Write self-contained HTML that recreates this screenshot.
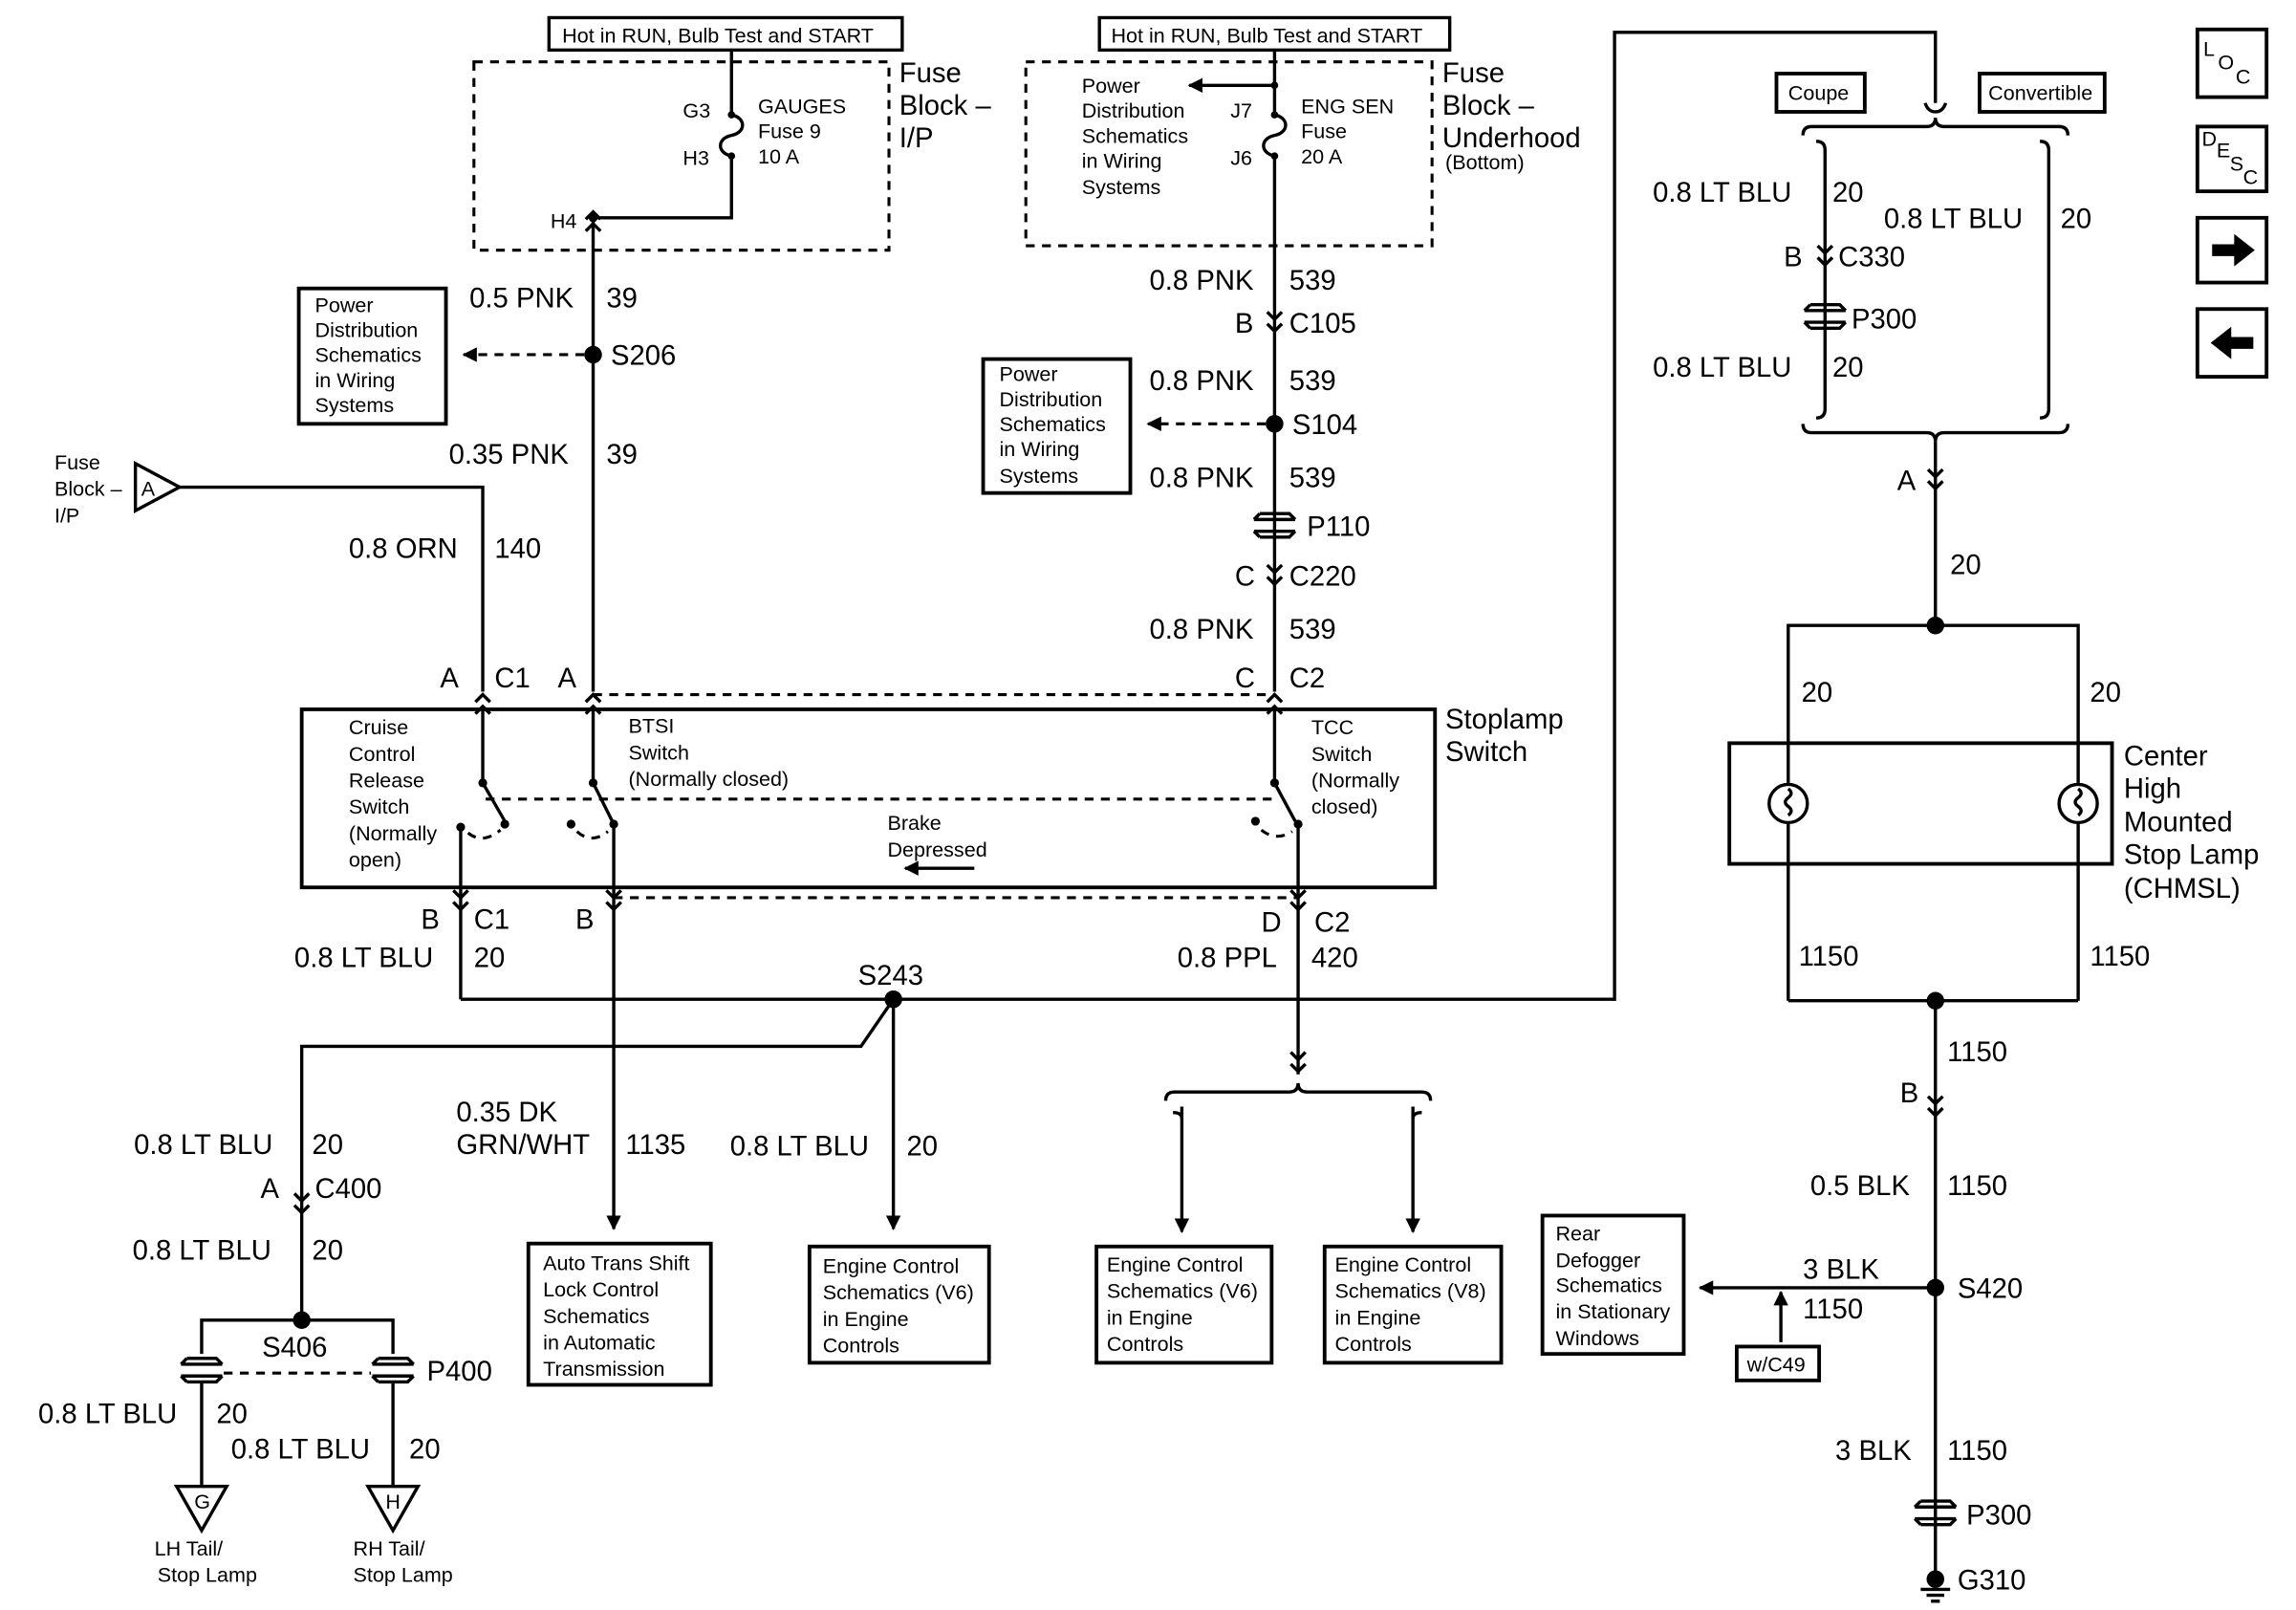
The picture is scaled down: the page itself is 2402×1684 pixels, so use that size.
<!DOCTYPE html>
<html><head><meta charset="utf-8"><style>
html,body{margin:0;padding:0;background:#fff}
svg{display:block}
text{font-family:"Liberation Sans",sans-serif;fill:#000}
.s{font-size:14px}.m{font-size:19px}
.w{stroke:#000;stroke-width:2.2;fill:none}
.d{stroke:#000;stroke-width:2;fill:none;stroke-dasharray:6,5}
.b{stroke:#000;stroke-width:2.5;fill:none}
</style></head><body>
<svg width="2402" height="1684" viewBox="0 0 1560 1094" preserveAspectRatio="none" xmlns="http://www.w3.org/2000/svg">
<defs>
<g id="cc"><path d="M-5,-7 L0,-2 L5,-7 M-5,1 L0,6 L5,1" class="w" stroke-width="1.8"/></g>
<g id="cu"><path d="M-5,-1 L0,-6 L5,-1 M-5,7 L0,2 L5,7" class="w" stroke-width="1.8"/></g>
<g id="pp"><path d="M-14,-4 L14,-4 M-14,4 L14,4 M-10,-8 L10,-8 L14,-4 M-10,8 L10,8 L14,4 M-10,-8 L-14,-4 M-10,8 L-14,4" class="w" stroke-width="2"/></g>
<marker id="ar" markerWidth="10" markerHeight="10" refX="9" refY="5" orient="auto" markerUnits="userSpaceOnUse"><path d="M0,0 L10,5 L0,10 z" fill="#000"/></marker>
</defs>

<!-- top left fuse block -->
<rect x="373" y="12" width="240" height="22" class="w" stroke-width="2"/>
<text x="382" y="29" class="s">Hot in RUN, Bulb Test and START</text>
<rect x="322" y="42" width="282" height="128" class="d" stroke-width="3"/>
<text x="611" y="56" class="m">Fuse</text><text x="611" y="78" class="m">Block –</text><text x="611" y="100" class="m">I/P</text>
<text x="464" y="80" class="s">G3</text><text x="464" y="112" class="s">H3</text>
<text x="515" y="77" class="s">GAUGES</text><text x="515" y="94" class="s">Fuse 9</text><text x="515" y="111" class="s">10 A</text>
<text x="374" y="155" class="s">H4</text>
<path d="M497,34 L497,78 C507,80 507,90 497,92 C487,94 487,104 497,106 L497,148 L403,148 L403,470" class="w"/>
<circle cx="497" cy="78" r="2.5"/><circle cx="497" cy="106" r="2.5"/>
<use href="#cu" x="403" y="150"/>
<circle cx="403" cy="148" r="3"/>
<text x="319" y="209" class="m">0.5 PNK</text><text x="412" y="209" class="m">39</text>
<circle cx="403" cy="241" r="6"/><text x="415" y="248" class="m">S206</text>
<line x1="397" y1="241" x2="315" y2="241" class="d" marker-end="url(#ar)"/>
<rect x="203" y="196" width="100" height="92" class="b"/>
<text x="214" y="212" class="s">Power</text><text x="214" y="229" class="s">Distribution</text><text x="214" y="246" class="s">Schematics</text><text x="214" y="263" class="s">in Wiring</text><text x="214" y="280" class="s">Systems</text>
<text x="305" y="315" class="m">0.35 PNK</text><text x="412" y="315" class="m">39</text>
<text x="37" y="319" class="s">Fuse</text><text x="37" y="337" class="s">Block –</text><text x="37" y="355" class="s">I/P</text>
<path d="M92,347 L92,315 L122,331 Z" class="w"/><text x="96" y="337" class="s">A</text>
<path d="M122,331 L328,331 L328,470" class="w"/>
<text x="237" y="379" class="m">0.8 ORN</text><text x="336" y="379" class="m">140</text>
<text x="299" y="467" class="m">A</text><text x="336" y="467" class="m">C1</text><text x="379" y="467" class="m">A</text>

<!-- top middle fuse block -->
<rect x="747" y="12" width="238" height="22" class="w" stroke-width="2"/>
<text x="755" y="29" class="s">Hot in RUN, Bulb Test and START</text>
<rect x="697" y="42" width="276" height="125" class="d" stroke-width="3"/>
<text x="980" y="56" class="m">Fuse</text><text x="980" y="78" class="m">Block –</text><text x="980" y="100" class="m">Underhood</text><text x="982" y="115" class="s">(Bottom)</text>
<text x="735" y="63" class="s">Power</text><text x="735" y="80" class="s">Distribution</text><text x="735" y="97" class="s">Schematics</text><text x="735" y="114" class="s">in Wiring</text><text x="735" y="132" class="s">Systems</text>
<line x1="866" y1="58" x2="808" y2="58" class="w" marker-end="url(#ar)"/>
<text x="836" y="80" class="s">J7</text><text x="836" y="112" class="s">J6</text>
<text x="884" y="77" class="s">ENG SEN</text><text x="884" y="94" class="s">Fuse</text><text x="884" y="111" class="s">20 A</text>
<path d="M866,34 L866,78 C876,80 876,90 866,92 C856,94 856,104 866,106 L866,470" class="w"/>
<circle cx="866" cy="58" r="2.5"/><circle cx="866" cy="78" r="2.5"/><circle cx="866" cy="106" r="2.5"/>
<text x="781" y="197" class="m">0.8 PNK</text><text x="876" y="197" class="m">539</text>
<text x="839" y="226" class="m">B</text><text x="876" y="226" class="m">C105</text><use href="#cc" x="866" y="219"/>
<text x="781" y="265" class="m">0.8 PNK</text><text x="876" y="265" class="m">539</text>
<circle cx="866" cy="288" r="6"/><text x="878" y="295" class="m">S104</text>
<line x1="860" y1="288" x2="780" y2="288" class="d" marker-end="url(#ar)"/>
<rect x="668" y="244" width="100" height="91" class="b"/>
<text x="679" y="259" class="s">Power</text><text x="679" y="276" class="s">Distribution</text><text x="679" y="293" class="s">Schematics</text><text x="679" y="310" class="s">in Wiring</text><text x="679" y="328" class="s">Systems</text>
<text x="781" y="331" class="m">0.8 PNK</text><text x="876" y="331" class="m">539</text>
<use href="#pp" x="866" y="357"/><text x="888" y="364" class="m">P110</text>
<text x="839" y="398" class="m">C</text><text x="876" y="398" class="m">C220</text><use href="#cc" x="866" y="391"/>
<text x="781" y="434" class="m">0.8 PNK</text><text x="876" y="434" class="m">539</text>
<text x="839" y="467" class="m">C</text><text x="876" y="467" class="m">C2</text>

<!-- stoplamp switch -->
<line x1="403" y1="472" x2="866" y2="472" class="d"/>
<use href="#cu" x="328" y="478"/><use href="#cu" x="403" y="478"/><use href="#cu" x="866" y="478"/>
<rect x="205" y="482" width="770" height="121" class="b" stroke-width="3"/>
<text x="982" y="495" class="m">Stoplamp</text><text x="982" y="517" class="m">Switch</text>
<g class="s"><text x="237" y="499">Cruise</text><text x="237" y="517">Control</text><text x="237" y="535">Release</text><text x="237" y="553">Switch</text><text x="237" y="571">(Normally</text><text x="237" y="589">open)</text>
<text x="427" y="498">BTSI</text><text x="427" y="516">Switch</text><text x="427" y="534">(Normally closed)</text>
<text x="891" y="499">TCC</text><text x="891" y="517">Switch</text><text x="891" y="535">(Normally</text><text x="891" y="553">closed)</text>
<text x="603" y="564">Brake</text><text x="603" y="582">Depressed</text></g>
<line x1="662" y1="590" x2="615" y2="590" class="w" stroke-width="1.5" marker-end="url(#ar)"/>
<line x1="330" y1="543" x2="866" y2="543" class="d" stroke-width="1.5"/>
<!-- cruise -->
<path d="M328,482 L328,532 L343,558" class="w"/><circle cx="328" cy="532" r="3"/><circle cx="343" cy="560" r="3"/>
<circle cx="313" cy="562" r="3"/><path d="M313,562 L313,679" class="w"/>
<path d="M318,566 Q328,574 340,564" class="d" stroke-width="1.3" stroke-dasharray="3,3"/>
<!-- btsi -->
<path d="M403,482 L403,532 L416,558" class="w"/><circle cx="403" cy="532" r="3"/><circle cx="417" cy="560" r="3"/>
<circle cx="388" cy="560" r="3"/><path d="M417,560 L417,835" class="w" marker-end="url(#ar)"/>
<path d="M392,565 Q402,574 413,565" class="d" stroke-width="1.3" stroke-dasharray="3,3"/>
<!-- tcc -->
<path d="M866,482 L866,532 L880,558" class="w"/><circle cx="866" cy="532" r="3"/><circle cx="882" cy="560" r="3"/>
<circle cx="853" cy="558" r="3"/><path d="M882,560 L882,730" class="w"/>
<path d="M857,564 Q867,572 878,565" class="d" stroke-width="1.3" stroke-dasharray="3,3"/>
<line x1="417" y1="610" x2="882" y2="610" class="d"/>
<use href="#cc" x="313" y="612"/><use href="#cc" x="417" y="612"/><use href="#cc" x="882" y="612"/>

<text x="286" y="631" class="m">B</text><text x="322" y="631" class="m">C1</text><text x="391" y="631" class="m">B</text>
<text x="200" y="657" class="m">0.8 LT BLU</text><text x="322" y="657" class="m">20</text>
<text x="857" y="633" class="m">D</text><text x="893" y="633" class="m">C2</text>
<text x="800" y="657" class="m">0.8 PPL</text><text x="891" y="657" class="m">420</text>
<text x="583" y="669" class="m">S243</text>
<path d="M313,679 L1097,679 L1097,22 L1315,22 L1315,70" class="w"/>
<circle cx="607" cy="679" r="6"/>
<path d="M607,679 L585,711 L205,711 L205,897" class="w"/>
<path d="M607,679 L607,835" class="w" marker-end="url(#ar)"/>
<use href="#cc" x="882" y="722"/>
<path d="M792,748 Q792,742 798,742 L876,742 Q882,742 882,736 Q882,742 888,742 L966,742 Q972,742 972,748" class="w"/>
<path d="M803,752 L803,837" class="w" marker-end="url(#ar)"/><path d="M960,752 L960,837" class="w" marker-end="url(#ar)"/>
<path d="M797,756 Q803,756 803,760 M966,756 Q960,756 960,760" class="w"/>

<text x="310" y="762" class="m">0.35 DK</text><text x="310" y="784" class="m">GRN/WHT</text><text x="425" y="784" class="m">1135</text>
<text x="496" y="785" class="m">0.8 LT BLU</text><text x="616" y="785" class="m">20</text>
<text x="91" y="784" class="m">0.8 LT BLU</text><text x="212" y="784" class="m">20</text>
<text x="177" y="814" class="m">A</text><text x="214" y="814" class="m">C400</text><use href="#cc" x="205" y="818"/>
<text x="90" y="856" class="m">0.8 LT BLU</text><text x="212" y="856" class="m">20</text>
<circle cx="205" cy="897" r="6"/>
<path d="M137,920 L137,897 L267,897 L267,920" class="w"/>
<text x="178" y="922" class="m">S406</text>
<use href="#pp" x="137" y="931"/><use href="#pp" x="267" y="931"/>
<line x1="152" y1="933" x2="252" y2="933" class="d"/>
<text x="290" y="938" class="m">P400</text>
<path d="M137,940 L137,1010 M267,940 L267,1010" class="w"/>
<text x="26" y="967" class="m">0.8 LT BLU</text><text x="147" y="967" class="m">20</text>
<text x="157" y="991" class="m">0.8 LT BLU</text><text x="278" y="991" class="m">20</text>
<path d="M120,1010 L154,1010 L137,1040 Z" class="w"/><text x="132" y="1025" class="s">G</text>
<path d="M250,1010 L284,1010 L267,1040 Z" class="w"/><text x="262" y="1025" class="s">H</text>
<text x="105" y="1057" class="s">LH Tail/</text><text x="107" y="1075" class="s">Stop Lamp</text>
<text x="240" y="1057" class="s">RH Tail/</text><text x="240" y="1075" class="s">Stop Lamp</text>

<rect x="359" y="845" width="124" height="96" class="b"/>
<g class="s"><text x="369" y="863">Auto Trans Shift</text><text x="369" y="881">Lock Control</text><text x="369" y="899">Schematics</text><text x="369" y="917">in Automatic</text><text x="369" y="935">Transmission</text></g>
<rect x="550" y="847" width="122" height="79" class="b"/>
<g class="s"><text x="559" y="865">Engine Control</text><text x="559" y="883">Schematics (V6)</text><text x="559" y="901">in Engine</text><text x="559" y="919">Controls</text></g>
<rect x="745" y="847" width="119" height="79" class="b"/>
<g class="s"><text x="752" y="864">Engine Control</text><text x="752" y="882">Schematics (V6)</text><text x="752" y="900">in Engine</text><text x="752" y="918">Controls</text></g>
<rect x="900" y="847" width="120" height="79" class="b"/>
<g class="s"><text x="907" y="864">Engine Control</text><text x="907" y="882">Schematics (V8)</text><text x="907" y="900">in Engine</text><text x="907" y="918">Controls</text></g>

<!-- right side -->
<rect x="1207" y="50" width="60" height="26" class="b"/><text x="1215" y="68" class="s">Coupe</text>
<rect x="1345" y="50" width="85" height="26" class="b"/><text x="1351" y="68" class="s">Convertible</text>
<path d="M1308,70 Q1310,76 1315,76 Q1320,76 1322,70" class="w"/>
<path d="M1225,92 Q1225,86 1231,86 L1309,86 Q1315,86 1315,80 Q1315,86 1321,86 L1399,86 Q1405,86 1405,92" class="w"/>
<path d="M1234,96 Q1240,96 1240,102 L1240,278 Q1240,284 1234,284 M1386,96 Q1392,96 1392,102 L1392,278 Q1392,284 1386,284" class="w"/>
<text x="1123" y="137" class="m">0.8 LT BLU</text><text x="1245" y="137" class="m">20</text>
<text x="1280" y="155" class="m">0.8 LT BLU</text><text x="1400" y="155" class="m">20</text>
<text x="1212" y="181" class="m">B</text><text x="1249" y="181" class="m">C330</text><use href="#cc" x="1240" y="174"/>
<use href="#pp" x="1240" y="215"/><text x="1258" y="223" class="m">P300</text>
<text x="1123" y="256" class="m">0.8 LT BLU</text><text x="1245" y="256" class="m">20</text>
<path d="M1225,288 Q1225,294 1231,294 L1309,294 Q1315,294 1315,300 Q1315,294 1321,294 L1399,294 Q1405,294 1405,288" class="w"/>
<path d="M1315,300 L1315,425" class="w"/>
<text x="1289" y="333" class="m">A</text><use href="#cc" x="1315" y="326"/>
<text x="1325" y="390" class="m">20</text>
<circle cx="1315" cy="425" r="6"/>
<path d="M1215,505 L1215,425 L1412,425 L1412,505" class="w"/>
<text x="1224" y="477" class="m">20</text><text x="1420" y="477" class="m">20</text>
<rect x="1175" y="505" width="260" height="82" class="b" stroke-width="3"/>
<path d="M1215,505 L1215,532 M1215,560 L1215,680 M1412,505 L1412,532 M1412,560 L1412,680" class="w"/>
<circle cx="1215" cy="546" r="13" class="w"/><circle cx="1412" cy="546" r="13" class="w"/>
<path d="M1215,536 q4,3 0,6 q-4,3 0,6 q4,3 0,6 M1412,536 q4,3 0,6 q-4,3 0,6 q4,3 0,6" class="w" stroke-width="1.5"/>
<text x="1443" y="520" class="m">Center</text><text x="1443" y="542" class="m">High</text><text x="1443" y="565" class="m">Mounted</text><text x="1443" y="587" class="m">Stop Lamp</text><text x="1443" y="610" class="m">(CHMSL)</text>
<text x="1222" y="656" class="m">1150</text><text x="1420" y="656" class="m">1150</text>
<path d="M1215,680 L1412,680 M1315,680 L1315,1072" class="w"/>
<circle cx="1315" cy="680" r="6"/>
<text x="1323" y="721" class="m">1150</text>
<text x="1291" y="749" class="m">B</text><use href="#cc" x="1315" y="752"/>
<text x="1230" y="812" class="m">0.5 BLK</text><text x="1323" y="812" class="m">1150</text>
<circle cx="1315" cy="875" r="6"/><text x="1330" y="882" class="m">S420</text>
<line x1="1315" y1="875" x2="1155" y2="875" class="w" marker-end="url(#ar)"/>
<text x="1225" y="869" class="m">3 BLK</text><text x="1225" y="896" class="m">1150</text>
<line x1="1210" y1="912" x2="1210" y2="878" class="w" marker-end="url(#ar)"/>
<rect x="1180" y="915" width="56" height="23" class="b"/><text x="1187" y="932" class="s">w/C49</text>
<rect x="1048" y="826" width="96" height="94" class="b"/>
<g class="s"><text x="1057" y="843">Rear</text><text x="1057" y="861">Defogger</text><text x="1057" y="878">Schematics</text><text x="1057" y="896">in Stationary</text><text x="1057" y="914">Windows</text></g>
<text x="1247" y="992" class="m">3 BLK</text><text x="1323" y="992" class="m">1150</text>
<use href="#pp" x="1315" y="1028"/><text x="1336" y="1036" class="m">P300</text>
<circle cx="1315" cy="1073" r="6"/><text x="1330" y="1080" class="m">G310</text>
<path d="M1305,1080 L1325,1080 M1309,1084 L1321,1084 M1312,1088 L1318,1088" class="w" stroke-width="1.5"/>

<!-- nav icons -->
<rect x="1493" y="20" width="47" height="46" class="b"/>
<text x="1497" y="38" class="s">L</text><text x="1507" y="47" class="s">O</text><text x="1519" y="57" class="s">C</text>
<rect x="1493" y="86" width="47" height="44" class="b"/>
<text x="1496" y="99" class="s">D</text><text x="1506" y="107" class="s">E</text><text x="1515" y="116" class="s">S</text><text x="1524" y="125" class="s">C</text>
<rect x="1493" y="148" width="47" height="44" class="b"/>
<path d="M1503,166 L1518,166 L1518,159 L1532,170 L1518,181 L1518,174 L1503,174 Z" fill="#000"/>
<rect x="1493" y="210" width="47" height="46" class="b"/>
<path d="M1531,229 L1516,229 L1516,222 L1502,233 L1516,244 L1516,237 L1531,237 Z" fill="#000"/>
</svg>
</body></html>
